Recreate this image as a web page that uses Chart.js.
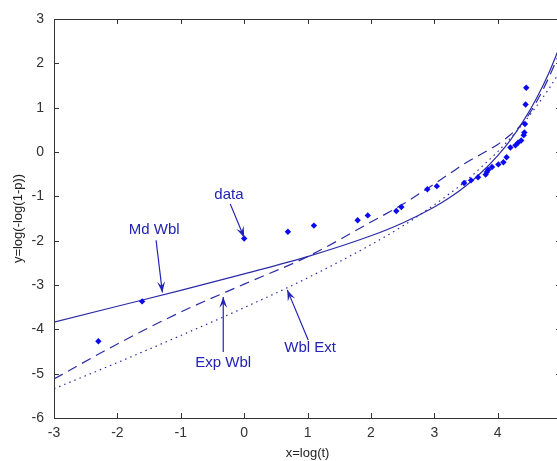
<!DOCTYPE html>
<html>
<head>
<meta charset="utf-8">
<script src="https://cdn.jsdelivr.net/npm/chart.js@4"></script>
<style>
  body { margin: 0; background: #fff; overflow: hidden; }
  #wrap { width: 572px; height: 461px; }
</style>
</head>
<body>
<div id="wrap"><canvas id="probPlot"></canvas></div>
<script>
// observed failure data: x = log(t), y = log(-log(1-p))
const dataX = [-2.30, -1.61, 0.00, 0.69, 1.10, 1.79, 1.95, 2.40, 2.48, 2.89, 3.04, 3.47, 3.58, 3.69, 3.81,
               3.83, 3.85, 3.91, 4.01, 4.09, 4.14, 4.20, 4.28, 4.32, 4.37, 4.41, 4.42, 4.43, 4.44, 4.45];
const dataY = [-4.27, -3.37, -1.95, -1.80, -1.66, -1.54, -1.43, -1.33, -1.24, -0.84, -0.77, -0.70, -0.64, -0.57, -0.51,
               -0.45, -0.40, -0.34, -0.28, -0.23, -0.12, 0.10, 0.15, 0.21, 0.26, 0.38, 0.44, 0.63, 1.07, 1.45];

// fitted models on a shared x grid
const gridX  = [-3, -2, -1, 0, 1, 2, 2.5, 3, 3.25, 3.5, 3.75, 4, 4.2, 4.4, 4.6, 4.8, 5];
const mdWbl  = [-3.84, -3.48, -3.12, -2.75, -2.36, -1.89, -1.60, -1.24, -1.02, -0.76, -0.45, -0.08, 0.27, 0.69, 1.18, 1.76, 2.46];
const expWbl = [-5.12, -4.33, -3.61, -2.98, -2.36, -1.58, -1.18, -0.72, -0.48, -0.24, -0.04, 0.17, 0.39, 0.66, 1.10, 1.66, 2.32];
const wblExt = [-5.34, -4.75, -4.14, -3.51, -2.84, -2.09, -1.67, -1.19, -0.93, -0.65, -0.33, 0.01, 0.31, 0.64, 1.01, 1.41, 1.86];

const xTicks = [-3, -2, -1, 0, 1, 2, 3, 4, 5];
const yTicks = [-6, -5, -4, -3, -2, -1, 0, 1, 2, 3];

// labels with arrows, in data units
const notes = [
  { text: 'data',    at: [-0.24, -0.97], from: [-0.22, -1.17], to: [0.00, -1.93] },
  { text: 'Md Wbl',  at: [-1.42, -1.76], from: [-1.39, -1.99], to: [-1.29, -3.17] },
  { text: 'Exp Wbl', at: [-0.33, -4.76], from: [-0.33, -4.51], to: [-0.33, -3.27] },
  { text: 'Wbl Ext', at: [1.04, -4.42],  from: [1.01, -4.24],  to: [0.68, -3.11] }
];

const lineColor = '#2b2ba6';
const toPoints = (xs, ys) => xs.map((x, i) => ({ x: x, y: ys[i] }));

// box around the plot with inward tick marks on every side
const boxPlugin = {
  id: 'box',
  afterDraw(chart) {
    const { ctx, chartArea: a, scales } = chart;
    ctx.save();
    ctx.strokeStyle = '#333';
    ctx.lineWidth = 1;
    ctx.strokeRect(a.left + 0.5, a.top + 0.5, a.right - a.left, a.bottom - a.top);
    ctx.beginPath();
    xTicks.forEach(v => {
      const px = Math.round(scales.x.getPixelForValue(v)) + 0.5;
      ctx.moveTo(px, a.bottom); ctx.lineTo(px, a.bottom - 5);
      ctx.moveTo(px, a.top); ctx.lineTo(px, a.top + 5);
    });
    yTicks.forEach(v => {
      const py = Math.round(scales.y.getPixelForValue(v)) + 0.5;
      ctx.moveTo(a.left, py); ctx.lineTo(a.left + 5, py);
      ctx.moveTo(a.right, py); ctx.lineTo(a.right - 5, py);
    });
    ctx.stroke();
    ctx.restore();
  }
};

const notePlugin = {
  id: 'notes',
  afterDatasetsDraw(chart) {
    const { ctx, scales } = chart;
    const px = p => [scales.x.getPixelForValue(p[0]), scales.y.getPixelForValue(p[1])];
    ctx.save();
    notes.forEach(n => {
      const [tx, ty] = px(n.at);
      ctx.fillStyle = '#2323b4';
      ctx.font = '15px "Liberation Sans", Arial, sans-serif';
      ctx.textAlign = 'center';
      ctx.textBaseline = 'middle';
      ctx.fillText(n.text, tx, ty);

      const [x1, y1] = px(n.from);
      const [x2, y2] = px(n.to);
      ctx.strokeStyle = '#2323b4';
      ctx.lineWidth = 1.2;
      ctx.beginPath();
      ctx.moveTo(x1, y1);
      ctx.lineTo(x2, y2);
      ctx.stroke();
      // arrow head
      const ang = Math.atan2(y2 - y1, x2 - x1);
      const len = 11, half = 4;
      ctx.beginPath();
      ctx.moveTo(x2, y2);
      ctx.lineTo(x2 - len * Math.cos(ang) + half * Math.sin(ang), y2 - len * Math.sin(ang) - half * Math.cos(ang));
      ctx.lineTo(x2 - 0.6 * len * Math.cos(ang), y2 - 0.6 * len * Math.sin(ang));
      ctx.lineTo(x2 - len * Math.cos(ang) - half * Math.sin(ang), y2 - len * Math.sin(ang) + half * Math.cos(ang));
      ctx.closePath();
      ctx.fillStyle = '#2323b4';
      ctx.fill();
    });
    ctx.restore();
  }
};

const curve = (ys, dash) => ({
  data: toPoints(gridX, ys),
  showLine: true,
  borderColor: lineColor,
  borderWidth: 1.2,
  borderDash: dash,
  pointRadius: 0,
  cubicInterpolationMode: 'monotone',
  fill: false
});

new Chart(document.getElementById('probPlot'), {
  type: 'scatter',
  data: {
    datasets: [
      {
        data: toPoints(dataX, dataY),
        pointStyle: 'rectRot',
        pointRadius: 3.2,
        backgroundColor: '#0a0af2',
        borderColor: '#0a0af2',
        borderWidth: 0
      },
      curve(mdWbl, []),
      curve(expWbl, [10, 6]),
      curve(wblExt, [1.5, 4])
    ]
  },
  options: {
    responsive: true,
    maintainAspectRatio: false,
    animation: false,
    layout: { padding: { top: 19, right: 8, bottom: 0, left: 0 } },
    plugins: { legend: { display: false }, tooltip: { enabled: false } },
    scales: {
      x: {
        type: 'linear',
        min: -3, max: 5,
        afterFit: s => { s.height = 43; },
        afterBuildTicks: s => { s.ticks = xTicks.map(v => ({ value: v })); },
        grid: { display: false, drawTicks: false },
        border: { display: false },
        ticks: { color: '#333', padding: 7, maxRotation: 0, font: { family: '"Liberation Sans", Arial', size: 14 } },
        title: { display: true, text: 'x=log(t)', color: '#222', padding: 0, font: { family: '"Liberation Sans", Arial', size: 13 } }
      },
      y: {
        type: 'linear',
        min: -6, max: 3,
        afterFit: s => { s.width = 54; },
        afterBuildTicks: s => { s.ticks = yTicks.map(v => ({ value: v })); },
        grid: { display: false, drawTicks: false },
        border: { display: false },
        ticks: { color: '#333', padding: 10, font: { family: '"Liberation Sans", Arial', size: 14 } },
        title: { display: true, text: 'y=log(-log(1-p))', color: '#222', padding: 11, font: { family: '"Liberation Sans", Arial', size: 13 } }
      }
    }
  },
  plugins: [boxPlugin, notePlugin]
});
</script>
</body>
</html>
